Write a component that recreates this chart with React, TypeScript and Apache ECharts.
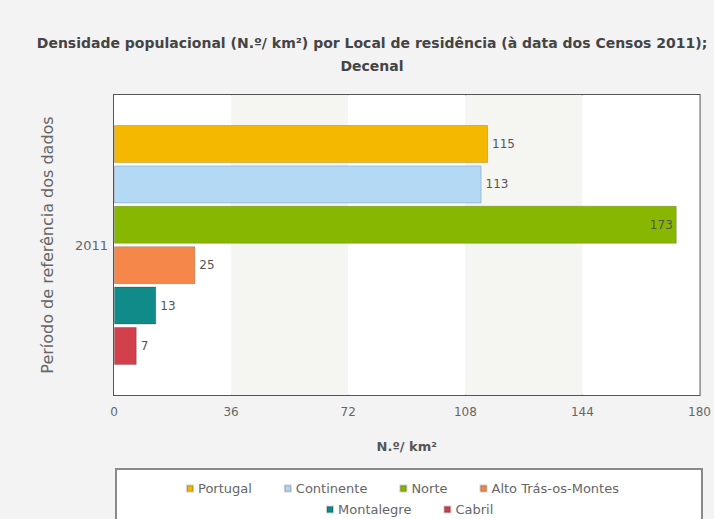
import React, { useEffect, useRef } from "react";
import * as echarts from "echarts";

const categories = ["2011"];
const seriesNames = ["Portugal", "Continente", "Norte", "Alto Trás-os-Montes", "Montalegre", "Cabril"];
const seriesValues = [115, 113, 173, 25, 13, 7];
const seriesColors = ["#F5B800", "#B3D9F5", "#88B700", "#F5874A", "#118A8A", "#D2404B"];
const xTicks = { min: 0, max: 180, interval: 36 };
const legendRow1 = ["Portugal", "Continente", "Norte", "Alto Trás-os-Montes"];
const legendRow2 = ["Montalegre", "Cabril"];

const FONT = "DejaVu Sans, Verdana, sans-serif";

export default function App() {
  const ref = useRef<HTMLDivElement>(null);
  useEffect(() => {
    document.body.style.margin = "0";
    const chart = echarts.init(ref.current!, null, { renderer: "svg" });
    const series = seriesNames.map((name, i) => ({
      name,
      type: "bar",
      data: [seriesValues[i]],
      barGap: "6%",
      barCategoryGap: "20%",
      itemStyle: { color: seriesColors[i], borderColor: "rgba(0,0,0,0.18)", borderWidth: 1 },
      label: {
        show: true,
        position: name === "Norte" ? "insideRight" : "right",
        color: "#555",
        fontSize: 12,
        fontFamily: FONT,
        distance: 4,
      },
    }));
    const legendCommon = {
      icon: "rect",
      itemWidth: 6,
      itemHeight: 6,
      itemGap: 32,
      textStyle: { color: "#666", fontSize: 13, fontFamily: FONT },
      selectedMode: false,
    };
    chart.setOption({
      animation: false,
      backgroundColor: "#f3f3f3",
      title: {
        text: "Densidade populacional (N.º/ km²) por Local de residência (à data dos Censos 2011);\nDecenal",
        left: 367,
        top: 26,
        textAlign: "center",
        textStyle: {
          fontSize: 14,
          fontWeight: "bold",
          color: "#444",
          lineHeight: 23,
          fontFamily: FONT,
        },
      },
      grid: {
        left: 114,
        right: 14,
        top: 95,
        bottom: 124,
        show: true,
        backgroundColor: "#ffffff",
        borderColor: "#555",
        borderWidth: 2,
      },
      xAxis: {
        type: "value",
        min: xTicks.min,
        max: xTicks.max,
        interval: xTicks.interval,
        name: "N.º/ km²",
        nameLocation: "middle",
        nameGap: 45,
        nameTextStyle: { fontSize: 13, fontWeight: "bold", color: "#555", fontFamily: FONT },
        axisLine: { show: false },
        axisTick: { show: false },
        splitLine: { show: false },
        splitArea: { show: true, areaStyle: { color: ["#ffffff", "#f5f5f1"] } },
        axisLabel: { color: "#666", fontSize: 12, margin: 11, fontFamily: FONT },
      },
      yAxis: {
        type: "category",
        data: categories,
        name: "Período de referência dos dados",
        nameLocation: "middle",
        nameGap: 59,
        nameRotate: 90,
        nameTextStyle: { fontSize: 16, color: "#666", fontFamily: FONT },
        axisLine: { show: false },
        axisTick: { show: false },
        axisLabel: { color: "#666", fontSize: 13, margin: 6, fontFamily: FONT },
      },
      legend: [
        { ...legendCommon, data: legendRow1, left: 181, top: 477 },
        { ...legendCommon, data: legendRow2, left: 321, top: 498 },
      ],
      graphic: [
        {
          type: "rect",
          left: 115,
          top: 468,
          z: -1,
          shape: { width: 586, height: 60 },
          style: { fill: "#ffffff", stroke: "#8a8a8a", lineWidth: 2 },
        },
      ],
      series,
    });
    return () => chart.dispose();
  }, []);
  return <div ref={ref} style={{ width: 714, height: 519 }} />;
}
